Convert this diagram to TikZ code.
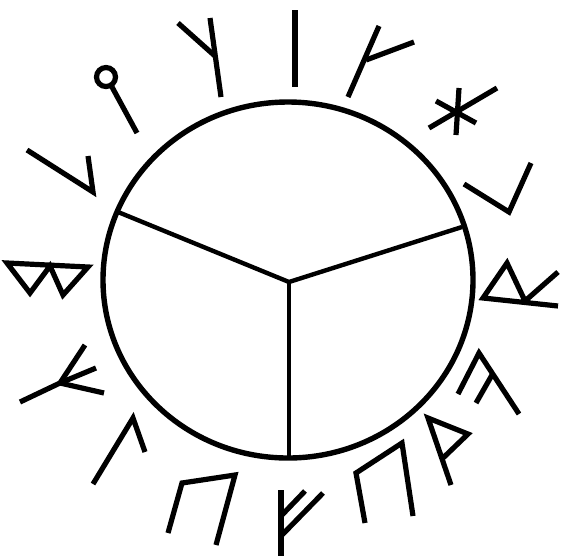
\documentclass[tikz,border=0pt]{standalone}
\begin{document}
\begin{tikzpicture}[x=1pt,y=-1pt,
  rune/.style={line width=5.2pt,line join=miter,miter limit=10,line cap=butt},
  ring/.style={line width=5.4pt},
  spoke/.style={line width=4.4pt}]
\useasboundingbox[fill=white] (0,0) rectangle (561,558);
% circle and spokes
\coordinate (c) at (289,282);
\draw[ring] (288,280) ellipse [x radius=185, y radius=178];
\coordinate (sl) at (118,212);
\coordinate (sr) at (462,227);
\coordinate (sb) at (289,457);
\draw[spoke] (sl) -- (c) -- (sr);
\draw[spoke] (c) -- (sb);
% runes, clockwise from the left
\draw[rune] (27,150) -- (93,192) -- (88,156);
\draw[rune] (106,77) circle [radius=9.5];
\draw[rune] (112,87) -- (137,133);
\draw[rune] (210,18) -- (221,97);
\draw[rune] (178,23) -- (215,56);
\draw[rune] (295,10) -- (295,87);
\draw[rune] (379,26) -- (348,97);
\draw[rune] (366,60) -- (414,42);
\draw[rune] (459,88) -- (456,135);
\draw[rune] (497,88) -- (429,128);
\draw[rune] (436,101) -- (476,123);
\draw[rune] (464,184) -- (509,212) -- (531,163);
\draw[rune] (558,306) -- (483,298) -- (507,263) -- (525,301) -- (558,272);
\draw[rune] (458,394) -- (479,353) -- (519,414);
\draw[rune] (476,403) -- (492,375);
\draw[rune] (451,485) -- (428,418) -- (468,434) -- (443,458);
\draw[rune] (365,523) -- (356,473) -- (402,443) -- (413,516);
\draw[rune] (281,490) -- (281,556);
\draw[rune] (281,516) -- (305,491);
\draw[rune] (281,536) -- (323,493);
\draw[rune] (168,533) -- (182,483) -- (235,475) -- (216,545);
\draw[rune] (93,484) -- (133,418) -- (145,452);
\draw[rune] (20,402) -- (60,383) -- (85,345);
\draw[rune] (60,383) -- (96,368);
\draw[rune] (60,383) -- (104,393);
\draw[rune] (7,263) -- (30,293) -- (50,266) -- (63,295) -- (88,267) -- cycle;
\end{tikzpicture}
\end{document}
